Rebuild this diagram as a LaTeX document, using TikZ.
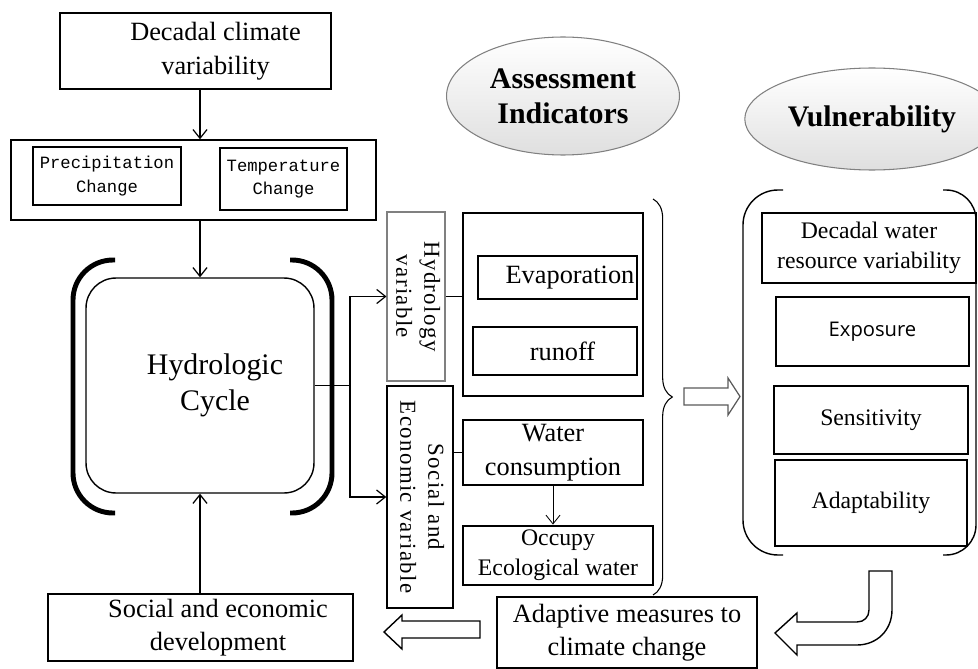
\documentclass[tikz,border=0pt]{standalone}
\usepackage{fontspec}
\setmainfont{Liberation Serif}
\newfontfamily\monofont{Liberation Mono}
\newfontfamily\sansfont{Open Sans}
\usepackage{graphicx}
\usetikzlibrary{arrows.meta,shapes.geometric,decorations.pathreplacing}

\begin{document}
\begin{tikzpicture}[x=0.02cm,y=-0.02cm,>={Straight Barb[length=5pt,width=8pt]},
  box/.style={draw,line width=0.8pt,align=center,inner sep=0pt,
    font=\fontsize{15}{19}\selectfont},
  thickbox/.style={box,line width=1.6pt},
  smallbox/.style={thickbox,font=\fontsize{13.5}{17}\selectfont},
  vbox/.style={box,font=\fontsize{13}{16}\selectfont\addfontfeatures{LetterSpace=6}},
  oval/.style={ellipse,draw=gray,line width=0.6pt,top color=white,bottom color=gray!25,
    align=center,font=\bfseries\fontsize{17}{20}\selectfont},
  link/.style={line width=0.7pt}]

\useasboundingbox (0,0) rectangle (978,669);

\node[oval,minimum width=4.66cm,minimum height=2.36cm] (ai) at (563,96) {Assessment\\Indicators};
\node[oval,minimum width=4.24cm,minimum height=2.04cm] (vul) at (872,119) {Vulnerability};

% climate side
\node[box,minimum width=5.42cm,minimum height=1.52cm] (dcv) at (195.5,51)
  {\hspace*{0.8cm}\begin{tabular}{@{}c@{}}Decadal climate\\variability\end{tabular}};
\node[box,minimum width=7.3cm,minimum height=1.6cm] (chg) at (193.5,180) {};
\node[box,line width=1.2pt,font=\monofont\fontsize{9.8}{13.6}\selectfont,
  minimum width=2.96cm,minimum height=1.16cm] (pc) at (107,176) {Precipitation\\Change};
\node[box,line width=1.2pt,font=\monofont\fontsize{9.8}{13.6}\selectfont,
  minimum width=2.54cm,minimum height=1.24cm] (tc) at (283.5,179) {Temperature\\Change};
\node[box,rounded corners=0.6cm,font=\fontsize{17}{20}\selectfont,
  minimum width=4.56cm,minimum height=4.3cm] (hc) at (200,385.5)
  {\hspace*{0.6cm}\begin{tabular}{@{}c@{}}Hydrologic\\Cycle\end{tabular}};
\node[box,minimum width=6.1cm,minimum height=1.18cm] (sed) at (200.5,627.5)
  {\hspace*{0.7cm}\begin{tabular}{@{}c@{}}Social and economic\\development\end{tabular}};

\draw[line width=2.8pt,rounded corners=0.8cm] (115,260) -- (73,260) -- (73,513) -- (115,513);
\draw[line width=2.8pt,rounded corners=0.8cm] (290,260) -- (332,260) -- (332,513) -- (290,513);

% assessment indicators
\node[vbox,draw=gray,line width=0.6pt,minimum width=1.16cm,minimum height=3.38cm] (hv) at (416,296.5)
  {\rotatebox{-90}{\begin{tabular}{@{}c@{}}Hydrology\\variable\end{tabular}}};
\node[vbox,minimum width=1.32cm,minimum height=4.44cm] (sev) at (420,497)
  {\rotatebox{-90}{\begin{tabular}{@{}c@{}}Social and\\Economic variable\end{tabular}}};
\node[box,line width=1pt,minimum width=3.6cm,minimum height=3.66cm] (evo) at (553,304.5) {};
\node[box,line width=1.2pt,minimum width=3.18cm,minimum height=0.86cm] (evap) at (557.5,277.5) {\hspace{0.5cm}Evaporation};
\node[box,line width=1.2pt,minimum width=3.28cm,minimum height=0.96cm] (ro) at (555,351) {\hspace{0.3cm}runoff};
\node[box,line width=1pt,minimum width=3.6cm,minimum height=1.3cm] (wc) at (553,452.5) {Water\\consumption};
\node[smallbox,minimum width=3.8cm,minimum height=1.18cm] (oew) at (558,555.5) {Occupy\\Ecological water};
\node[thickbox,minimum width=5.2cm,minimum height=1.42cm] (amc) at (627,632.5) {Adaptive measures to\\climate change};

\draw[line width=0.6pt,decorate,decoration={brace,amplitude=11pt}] (653,199) -- (653,595);

% vulnerability
\node[smallbox,minimum width=4.28cm,minimum height=1.4cm] (dwr) at (869,248) {Decadal water\\resource variability};
\node[thickbox,font=\sansfont\fontsize{11.5}{14}\selectfont,minimum width=3.86cm,minimum height=1.38cm] (exp) at (872.5,331.5) {Exposure};
\node[smallbox,minimum width=3.88cm,minimum height=1.36cm] (sens) at (871,420) {Sensitivity};
\node[smallbox,minimum width=3.84cm,minimum height=1.72cm] (adap) at (871,503) {Adaptability};

\draw[line width=0.8pt,rounded corners=0.7cm] (783,190) -- (743,190) -- (743,555) -- (783,555);
\draw[line width=0.8pt,rounded corners=0.6cm] (943,190) -- (976,190) -- (976,555) -- (943,555);

% connectors
\coordinate (fork) at (350,385.5);
\draw[->,link] (dcv.south -| hc.north) -- (chg.north -| hc.north);
\draw[->,link] (chg.south -| hc.north) -- (hc.north);
\draw[->,link] (sed.north -| hc.south) -- (hc.south);
\draw[link] (hc.east) -- (fork);
\draw[->,link] (fork) |- (hv.west);
\draw[->,link] (fork) |- (sev.west);
\draw[link] (hv.east) -- (hv.east -| evo.west);
\draw[link] (sev.east |- wc.west) -- (wc.west);
\draw[->,line width=0.5pt] (wc.south) -- (wc.south |- oew.north);

% hollow arrows
\draw[gray!70!black,line width=0.7pt] (684,388) -- (728,388) -- (728,378) -- (740,396.5)
  -- (728,415) -- (728,405) -- (684,405) -- cycle;
\draw[line width=0.8pt] (480,621) -- (402,621) -- (402,615) -- (384,632) -- (402,649)
  -- (402,638) -- (480,638) -- cycle;
\draw[line width=0.8pt] (869,571) -- (892,571) -- (892,610) .. controls (892,630) and (877,645) .. (857,645)
  -- (797,645) -- (797,655) -- (775,633) -- (797,613) -- (797,622) -- (857,622)
  .. controls (864,622) and (869,617) .. (869,610) -- cycle;

\end{tikzpicture}
\end{document}
